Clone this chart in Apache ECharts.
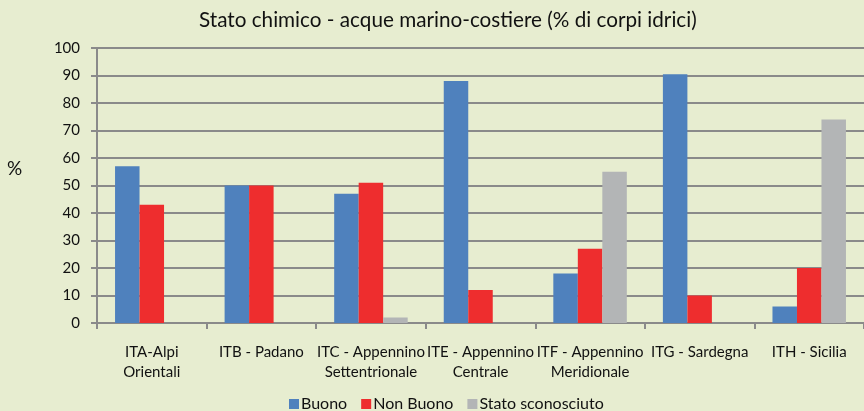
<!DOCTYPE html>
<html><head><meta charset="utf-8">
<script src="https://cdn.jsdelivr.net/npm/echarts@6/dist/echarts.min.js"></script>
<style>html,body{margin:0;padding:0;background:#E7EDD0;}#c{width:864px;height:411px;}</style>
</head><body><div id="c"></div>
<script>
const categories = ["ITA-Alpi\nOrientali", "ITB - Padano", "ITC - Appennino\nSettentrionale", "ITE - Appennino\nCentrale", "ITF - Appennino\nMeridionale", "ITG - Sardegna", "ITH - Sicilia"];
const buono = [57, 50, 47, 88, 18, 90.5, 6];
const nonBuono = [43, 50, 51, 12, 27, 10, 20];
const sconosciuto = [0, 0, 2, 0, 55, 0, 74];
const seriesNames = ["Buono", "Non Buono", "Stato sconosciuto"];
const yTicks = [0, 10, 20, 30, 40, 50, 60, 70, 80, 90, 100];

const FONT = "Lato, 'Open Sans', sans-serif";
const chart = echarts.init(document.getElementById('c'));
const colors = ['#4F81BD', '#EE2D2E', '#B3B5B6'];
const mk = (name, data, i) => ({
  name, type: 'bar', data, barWidth: 24.5, barGap: '0%',
  itemStyle: { color: colors[i] }
});
chart.setOption({
  backgroundColor: '#E7EDD0',
  animation: false,
  title: {
    text: 'Stato chimico - acque marino-costiere (% di corpi idrici)',
    left: 194, top: 5,
    textStyle: { fontFamily: FONT, fontSize: 20.7, fontWeight: 'normal', color: '#111' }
  },
  legend: {
    top: 391, left: 284, itemWidth: 10, itemHeight: 10, itemGap: 14,
    icon: 'rect',
    textStyle: { fontFamily: FONT, fontSize: 16, color: '#111', padding: [0, 0, 0, -3] },
    data: seriesNames
  },
  grid: { left: 97, top: 48, bottom: 88, right: -5 },
  graphic: [{ type: 'text', left: 7, top: 159, style: { text: '%', font: '19px ' + FONT, fill: '#111' } }],
  xAxis: {
    type: 'category', data: categories,
    axisLine: { lineStyle: { color: '#8a8a8a', width: 2 } },
    axisTick: { show: true, length: 6, lineStyle: { color: '#8a8a8a', width: 2 } },
    axisLabel: { interval: 0, margin: 19, fontFamily: FONT, fontSize: 15, lineHeight: 20, color: '#111' }
  },
  yAxis: {
    type: 'value', min: 0, max: 100, interval: 10,
    axisLine: { show: true, lineStyle: { color: '#8a8a8a', width: 2 } },
    axisTick: { show: true, length: 6, lineStyle: { color: '#8a8a8a', width: 2 } },
    splitLine: { lineStyle: { color: '#8a8a8a', width: 2 } },
    axisLabel: { margin: 17, fontFamily: FONT, fontSize: 15, color: '#111',
      formatter: v => yTicks.includes(v) ? String(v) : '' }
  },
  series: [mk(seriesNames[0], buono, 0), mk(seriesNames[1], nonBuono, 1), mk(seriesNames[2], sconosciuto, 2)]
});
</script></body></html>
